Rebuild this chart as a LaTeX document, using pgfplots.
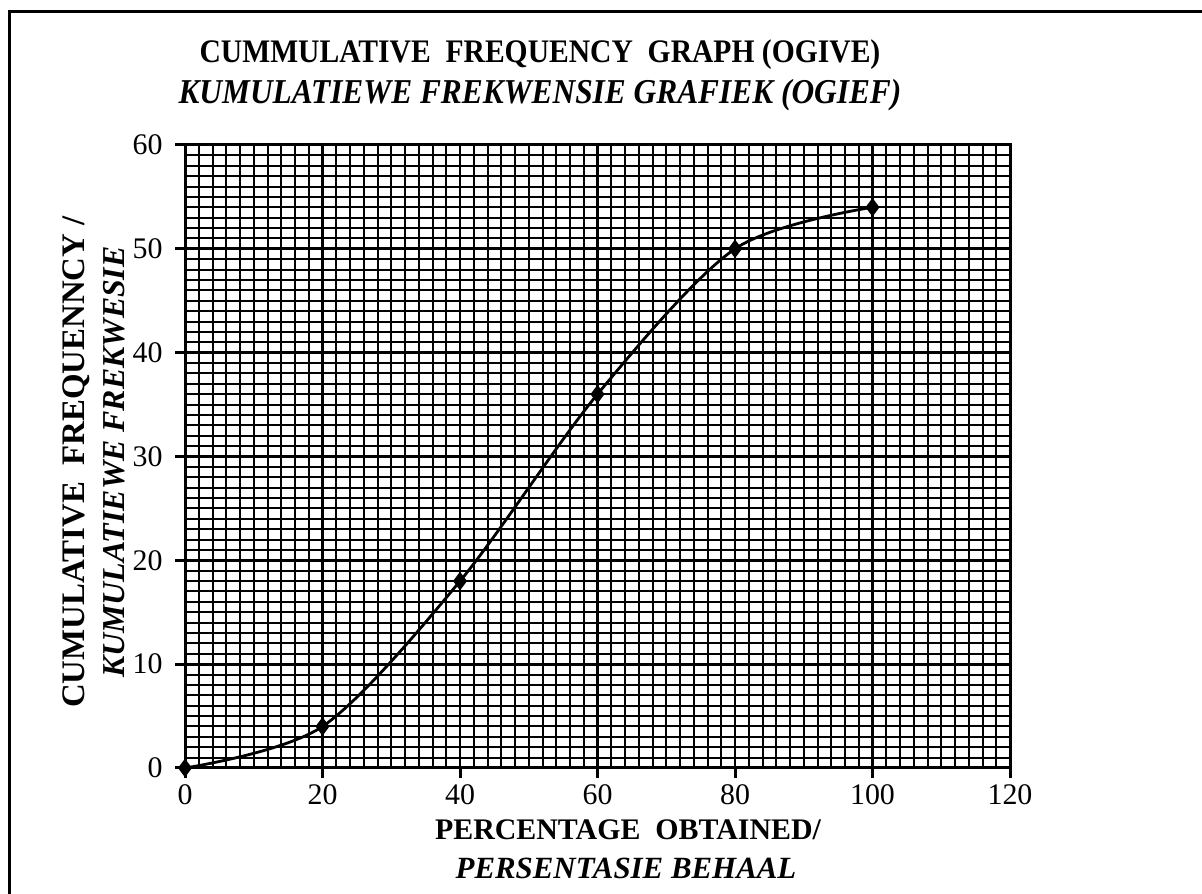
\documentclass[border=0pt]{standalone}
\usepackage{pgfplots}
\pgfplotsset{compat=1.18}
\usepackage{fontspec}
\setmainfont{Liberation Serif}
\newfontfamily\condfont[FakeStretch=0.9]{Liberation Serif}
\begin{document}
\begin{tikzpicture}[x=1bp,y=1bp]
\path[use as bounding box] (0,0) rectangle (1202,894);
\draw[line width=3bp] (9,0) -- (9,882) -- (1202,882);
% titles
\node[font=\condfont\bfseries\fontsize{33}{33}\selectfont] at (540,839) {CUMMULATIVE\ \ FREQUENCY\ \ GRAPH (OGIVE)};
\node[font=\condfont\bfseries\itshape\fontsize{35}{35}\selectfont] at (540,799) {KUMULATIEWE FREKWENSIE GRAFIEK (OGIEF)};
\begin{axis}[at={(185bp,126bp)}, anchor=south west,
  width=825bp, height=623bp, scale only axis,
  xmin=0, xmax=120, ymin=0, ymax=60,
  xtick={0,20,...,120}, ytick={0,10,...,60},
  minor x tick num=9, minor y tick num=9,
  grid=both,
  major grid style={line width=2.8bp, black},
  minor grid style={line width=2bp, black},
  axis line style={line width=3bp},
  xtick pos=left, ytick pos=left,
  tick align=outside, major tick length=10bp, minor tick length=0pt,
  tick style={line width=3bp, black},
  ticklabel style={font=\fontsize{30}{30}\selectfont},
  /pgf/number format/assume math mode=true,
  xticklabel style={yshift=-3bp},
  yticklabel style={xshift=-9bp},
  clip=false,
]
\addplot[black, line width=2.8bp, smooth, mark=diamond*, mark size=7bp]
  coordinates {(0,0) (20,4) (40,18) (60,36) (80,50) (100,54)};
\end{axis}
% axis titles
\node[font=\bfseries\fontsize{30}{30}\selectfont] at (628,64) {PERCENTAGE\ \ OBTAINED/};
\node[font=\bfseries\itshape\fontsize{31}{31}\selectfont] at (626,26) {PERSENTASIE BEHAAL};
\node[rotate=90, font=\bfseries\fontsize{33}{33}\selectfont] at (76,432) {CUMULATIVE\ \ FREQUENNCY /};
\node[rotate=90, font=\bfseries\itshape\fontsize{32}{32}\selectfont] at (114,432) {KUMULATIEWE FREKWESIE};
\end{tikzpicture}
\end{document}
